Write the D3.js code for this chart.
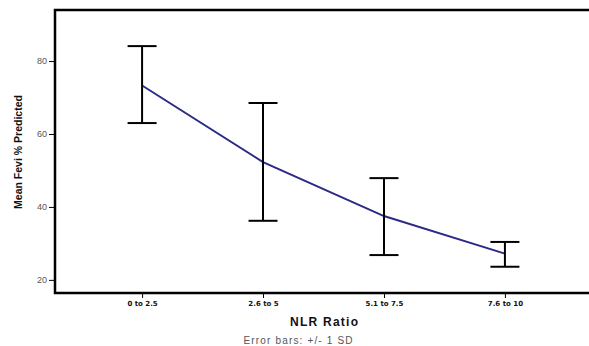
<!DOCTYPE html>
<html>
<head>
<meta charset="utf-8">
<script src="https://cdn.jsdelivr.net/npm/d3@7/dist/d3.min.js"></script>
<style>
body { margin: 0; background: #fff; }
</style>
</head>
<body>
<script>
var categories = ["0 to 2.5", "2.6 to 5", "5.1 to 7.5", "7.6 to 10"];
var means = [73.3, 52.3, 37.5, 27.2];
var upper = [84.1, 68.5, 47.9, 30.4];
var lower = [63.0, 36.2, 26.8, 23.6];
var yTicks = [20, 40, 60, 80];

var W = 589, H = 346;
var plotL = 55, plotT = 10, plotR = 592, plotB = 293;

var svg = d3.select("body").append("svg")
  .attr("width", W).attr("height", H);

var x = d3.scalePoint().domain(categories).range([plotL, plotR]).padding(0.72);
var y = d3.scaleLinear().domain([16.4, 94]).range([plotB, plotT]);

var data = categories.map(function(c, i) {
  return {cat: c, mean: means[i], hi: upper[i], lo: lower[i]};
});

// frame
svg.append("rect")
  .attr("x", plotL).attr("y", plotT)
  .attr("width", plotR - plotL).attr("height", plotB - plotT)
  .attr("fill", "none").attr("stroke", "#000").attr("stroke-width", 2.5);

// y axis
var yAxis = svg.append("g")
  .attr("transform", "translate(" + plotL + ",0)")
  .call(d3.axisLeft(y).tickValues(yTicks).tickSize(6).tickPadding(2));
yAxis.select(".domain").remove();
yAxis.selectAll("line").attr("stroke", "#000");
yAxis.selectAll("text").style("font", "9px 'Liberation Sans', Arial, sans-serif").style("fill", "#555");

// x axis
var xAxis = svg.append("g")
  .attr("transform", "translate(0," + plotB + ")")
  .call(d3.axisBottom(x).tickSize(5).tickPadding(3));
xAxis.select(".domain").remove();
xAxis.selectAll("line").attr("stroke", "#000");
xAxis.selectAll("text").style("font", "bold 7px 'DejaVu Sans', sans-serif").style("fill", "#111");

// mean line
var line = d3.line()
  .x(function(d) { return x(d.cat); })
  .y(function(d) { return y(d.mean); });

svg.append("path").datum(data)
  .attr("d", line)
  .attr("fill", "none")
  .attr("stroke", "#2b2b86")
  .attr("stroke-width", 2);

// error bars
var capW = 14.5;
var eb = svg.selectAll(".eb").data(data).enter().append("g")
  .attr("stroke", "#000").attr("stroke-width", 2);
eb.append("line")
  .attr("x1", function(d) { return x(d.cat); })
  .attr("x2", function(d) { return x(d.cat); })
  .attr("y1", function(d) { return y(d.hi); })
  .attr("y2", function(d) { return y(d.lo); });
eb.append("line")
  .attr("x1", function(d) { return x(d.cat) - capW; })
  .attr("x2", function(d) { return x(d.cat) + capW; })
  .attr("y1", function(d) { return y(d.hi); })
  .attr("y2", function(d) { return y(d.hi); });
eb.append("line")
  .attr("x1", function(d) { return x(d.cat) - capW; })
  .attr("x2", function(d) { return x(d.cat) + capW; })
  .attr("y1", function(d) { return y(d.lo); })
  .attr("y2", function(d) { return y(d.lo); });

// titles
svg.append("text")
  .attr("transform", "translate(22,152) rotate(-90)")
  .attr("text-anchor", "middle")
  .style("font", "bold 10.5px 'Liberation Sans', Arial, sans-serif")
  .style("fill", "#111")
  .text("Mean Fevi % Predicted");

svg.append("text")
  .attr("x", 324).attr("y", 326)
  .attr("text-anchor", "middle")
  .attr("textLength", 68)
  .style("font", "bold 12px 'Liberation Sans', Arial, sans-serif")
  .style("fill", "#111")
  .text("NLR Ratio");

svg.append("text")
  .attr("x", 298).attr("y", 344)
  .attr("text-anchor", "middle")
  .attr("textLength", 109)
  .style("font", "10px 'Liberation Sans', Arial, sans-serif")
  .style("fill", "#555")
  .text("Error bars: +/- 1 SD");
</script>
</body>
</html>
